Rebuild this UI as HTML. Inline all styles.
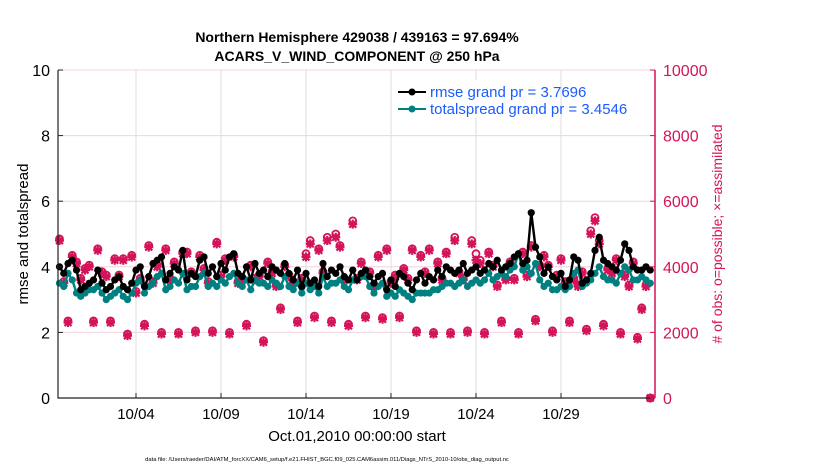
<!DOCTYPE html>
<html><head><meta charset="utf-8"><style>
body{margin:0;background:#fff;font-family:"Liberation Sans",sans-serif}
svg text{font-family:"Liberation Sans",sans-serif}
</style></head><body>
<svg id="c" width="830" height="470" xmlns="http://www.w3.org/2000/svg">
<rect width="830" height="470" fill="#fff"/>
<g id="grid"></g>
<g id="series"></g>
<g id="axes"></g>
<text x="357" y="42" text-anchor="middle" font-size="14" font-weight="bold">Northern Hemisphere 429038 / 439163 = 97.694%</text>
<text x="357" y="61" text-anchor="middle" font-size="14" font-weight="bold">ACARS_V_WIND_COMPONENT @ 250 hPa</text>
<text transform="translate(28,234) rotate(-90)" text-anchor="middle" font-size="15">rmse and totalspread</text>
<text transform="translate(722,234) rotate(-90)" text-anchor="middle" font-size="14" fill="#d4145a"># of obs: o=possible; ×=assimilated</text>
<text x="357" y="441" text-anchor="middle" font-size="15">Oct.01,2010 00:00:00 start</text>
<text x="327" y="461" text-anchor="middle" font-size="5.8">data file: /Users/raeder/DAI/ATM_forcXX/CAM6_setup/f.e21.FHIST_BGC.f09_025.CAM6assim.011/Diags_NTrS_2010-10/obs_diag_output.nc</text>
<g>
<rect x="393" y="80" width="156" height="37" fill="#fff"/>
<line x1="398" y1="92" x2="426" y2="92" stroke="#000" stroke-width="2"/>
<circle cx="412" cy="92" r="3.5" fill="#000"/>
<text x="430" y="97" font-size="15" fill="#1a5cff">rmse grand pr = 3.7696</text>
<line x1="398" y1="109" x2="426" y2="109" stroke="#008080" stroke-width="2"/>
<circle cx="412" cy="109" r="3.5" fill="#008080"/>
<text x="430" y="114" font-size="15" fill="#1a5cff">totalspread grand pr = 3.4546</text>
</g>
</svg>
<script>
const xTickLabels=["10/04","10/09","10/14","10/19","10/24","10/29"];
const xTickDays=[3,8,13,18,23,28];
const yTicks=[0,2,4,6,8,10];
const y2Ticks=[0,2000,4000,6000,8000,10000];
const startDay=-1.5;
const rmse=[4.0,3.8,4.1,4.2,3.9,3.3,
3.4,3.5,3.6,3.9, 3.5,3.3,3.4,3.6, 3.7,3.4,3.3,3.5, 3.9,4.0,3.4,3.7,
4.1,4.2,4.3,3.6, 3.8,4.0,3.9,4.5, 3.6,3.8,3.7,4.2, 4.3,3.8,4.0,3.7,
4.1,3.9,4.3,4.4, 3.8,3.7,4.0,3.6, 4.1,3.8,3.9,3.7, 4.0,3.9,3.8,4.1,
3.8,3.6,3.9,3.4, 3.8,3.5,3.6,3.4, 4.1,3.7,3.9,3.8, 4.0,3.7,3.6,3.9,
3.6,3.8,3.9,3.7, 3.5,3.7,3.8,3.3, 3.6,3.4,3.8,3.7, 3.5,3.3,3.6,3.8,
3.5,3.7,3.6,3.9, 3.7,4.0,3.9,3.8, 3.9,4.1,3.8,3.9, 4.0,3.8,3.9,4.1,
4.0,4.2,3.9,4.0, 4.1,4.3,4.4,4.1, 4.2,5.65,4.6,4.3, 3.8,4.0,3.7,3.6,
3.8,3.4,3.6,4.3, 4.2,3.5,3.6,3.8, 4.5,4.9,4.2,4.1, 4.0,3.9,4.2,4.7,
4.5,4.0,3.9,3.9, 4.0,3.9];
const spread=[3.5,3.4,3.8,3.6,3.2,3.1,
3.2,3.3,3.3,3.4, 3.2,3.0,3.1,3.2, 3.3,3.1,3.0,3.2, 3.5,3.6,3.2,3.4,
3.5,3.7,3.8,3.3, 3.4,3.6,3.5,3.8, 3.3,3.4,3.4,3.7, 3.8,3.4,3.5,3.4,
3.6,3.5,3.7,3.8, 3.5,3.4,3.6,3.3, 3.6,3.5,3.5,3.4, 3.6,3.5,3.4,3.7,
3.4,3.3,3.5,3.2, 3.5,3.3,3.4,3.2, 3.7,3.4,3.5,3.5, 3.6,3.4,3.3,3.6,
3.6,3.7,3.7,3.4, 3.2,3.4,3.5,3.1, 3.2,3.1,3.3,3.2, 3.1,3.0,3.2,3.2,
3.2,3.2,3.3,3.3, 3.4,3.5,3.5,3.4, 3.5,3.6,3.4,3.5, 3.6,3.5,3.6,3.8,
3.6,3.7,3.8,3.7, 3.9,4.0,4.4,3.9, 4.0,3.8,4.1,3.6, 3.4,3.5,3.3,3.3,
3.4,3.3,3.4,3.8, 3.9,3.4,3.5,3.6, 3.8,4.0,3.7,3.6, 3.6,3.5,3.8,4.0,
3.9,3.6,3.6,3.7, 3.6,3.5];
const nAssim=[4800,3500,2300,4300,4100,3600,
3900,4000,2300,4500, 3800,3700,2300,4200, 3700,4200,1900,4300, 3200,3600,2200,4600,
3500,4000,1950,4500, 3600,4100,1950,4400, 4400,3800,2000,4300, 3900,3500,2000,4700,
3700,4200,1950,4300, 3500,3600,2200,4000, 3600,3700,1700,4100, 3800,3400,2700,4000,
3700,3500,2300,3600, 4300,4700,2450,4500, 3800,4800,2300,4900, 4600,3600,2200,5300,
3600,4100,2450,3800, 3400,4300,2400,4500, 3500,3700,2450,3900, 3600,4500,2000,4300,
3800,4500,1950,4100, 3600,4400,1950,4800, 3800,3600,2000,4700, 4200,4100,1950,4400,
4000,3400,2300,3600, 4100,3600,1950,4400, 3700,4600,2350,4000, 4300,4000,2000,3700,
4200,3500,2300,3600, 3400,3800,2050,5000, 5400,4700,2200,3900, 3800,4200,1950,3700,
3400,4100,1800,2700, 3400,0];
const nPoss=[4850,3550,2350,4350,4150,3650,
3950,4050,2350,4550, 3850,3750,2350,4250, 3750,4250,1950,4350, 3250,3650,2250,4650,
3550,4050,2000,4550, 3650,4150,2000,4450, 4450,3850,2050,4350, 3950,3550,2050,4750,
3750,4250,2000,4350, 3550,3650,2250,4050, 3650,3750,1750,4150, 3850,3450,2750,4050,
3750,3550,2350,3650, 4400,4800,2500,4550, 3850,4900,2350,5000, 4650,3650,2250,5400,
3650,4150,2500,3850, 3450,4350,2450,4550, 3550,3750,2500,3950, 3650,4550,2050,4350,
3850,4550,2000,4150, 3650,4450,2000,4900, 3850,3650,2050,4800, 4400,4200,2000,4450,
4050,3450,2350,3650, 4150,3650,2000,4450, 3750,4650,2400,4050, 4350,4050,2050,3750,
4250,3550,2350,3650, 3450,3850,2100,5100, 5500,4800,2250,3950, 3850,4250,2000,3750,
3450,4150,1850,2750, 3450,0];
const L=58,R=655,T=70,B=398;
const xd=d=>85+d*17;
const yl=v=>B-(v/10)*(B-T);
const yr=v=>B-(v/10000)*(B-T);
const NS="http://www.w3.org/2000/svg";
function mk(tag,parent){const e=document.createElementNS(NS,tag);document.getElementById(parent).appendChild(e);return e;}
function set(e,o){for(const k in o)e.setAttribute(k,o[k]);return e;}
xTickDays.forEach((d,i)=>{
 const g=mk('line','grid');set(g,{x1:xd(d),x2:xd(d),y1:T,y2:B,stroke:'#dcdcdc','stroke-width':1});
 
 
});
yTicks.forEach(v=>{
 const g=mk('line','grid');set(g,{x1:L,x2:R,y1:yl(v),y2:yl(v),stroke:'#f0d4de','stroke-width':1});
 
 
});
function obsMarks(arr,kind){
 arr.forEach((v,i)=>{
  const x=xd(startDay+i*0.25),y=yr(v);
  if(kind==='poss'){
   const c=mk('circle','series');set(c,{cx:x,cy:y,r:3.5,fill:'none',stroke:'#d4145a','stroke-width':1.8});
   
   
  }else{
   const g=mk('path','series');
   set(g,{d:`M${x-4.5},${y}H${x+4.5}M${x},${y-4.5}V${y+4.5}M${x-3.5},${y-3.5}L${x+3.5},${y+3.5}M${x-3.5},${y+3.5}L${x+3.5},${y-3.5}`,stroke:'#d4145a','stroke-width':2.2});
   
   
  }
 });
}
obsMarks(nPoss,'poss');
obsMarks(nAssim,'assim');
function line(arr,color,name){
 const p=mk('polyline','series');
 set(p,{points:arr.map((v,i)=>xd(startDay+i*0.25)+','+yl(v)).join(' '),fill:'none',stroke:color,'stroke-width':2.4});
 
 
 arr.forEach((v,i)=>{
  const c=mk('circle','series');set(c,{cx:xd(startDay+i*0.25),cy:yl(v),r:3.6,fill:color});
  
  
 });
}
line(spread,'#008080','totalspread');
line(rmse,'#000','rmse');
const ax=mk('path','axes');set(ax,{d:`M${L},${T}V${B}H${R}`,stroke:'#222','stroke-width':1.2,fill:'none'});


const ar=mk('line','axes');set(ar,{x1:R,x2:R,y1:T,y2:B,stroke:'#d4145a','stroke-width':1.5});


yTicks.forEach(v=>{
 const t=mk('text','axes');set(t,{x:L-8,y:yl(v)+6,'text-anchor':'end','font-size':16});t.textContent=v;
 
 
 const k=mk('line','axes');set(k,{x1:L,x2:L+5,y1:yl(v),y2:yl(v),stroke:'#222'});
});
y2Ticks.forEach(v=>{
 const t=mk('text','axes');set(t,{x:R+8,y:yr(v)+6,'font-size':16,fill:'#d4145a'});t.textContent=v;
 
 
 const k=mk('line','axes');set(k,{x1:R-5,x2:R,y1:yr(v),y2:yr(v),stroke:'#d4145a'});
});
xTickDays.forEach((d,i)=>{
 const t=mk('text','axes');set(t,{x:xd(d),y:B+21,'text-anchor':'middle','font-size':15});t.textContent=xTickLabels[i];
 
 
 const k=mk('line','axes');set(k,{x1:xd(d),x2:xd(d),y1:B,y2:B-5,stroke:'#222'});
});
</script>
</body></html>
